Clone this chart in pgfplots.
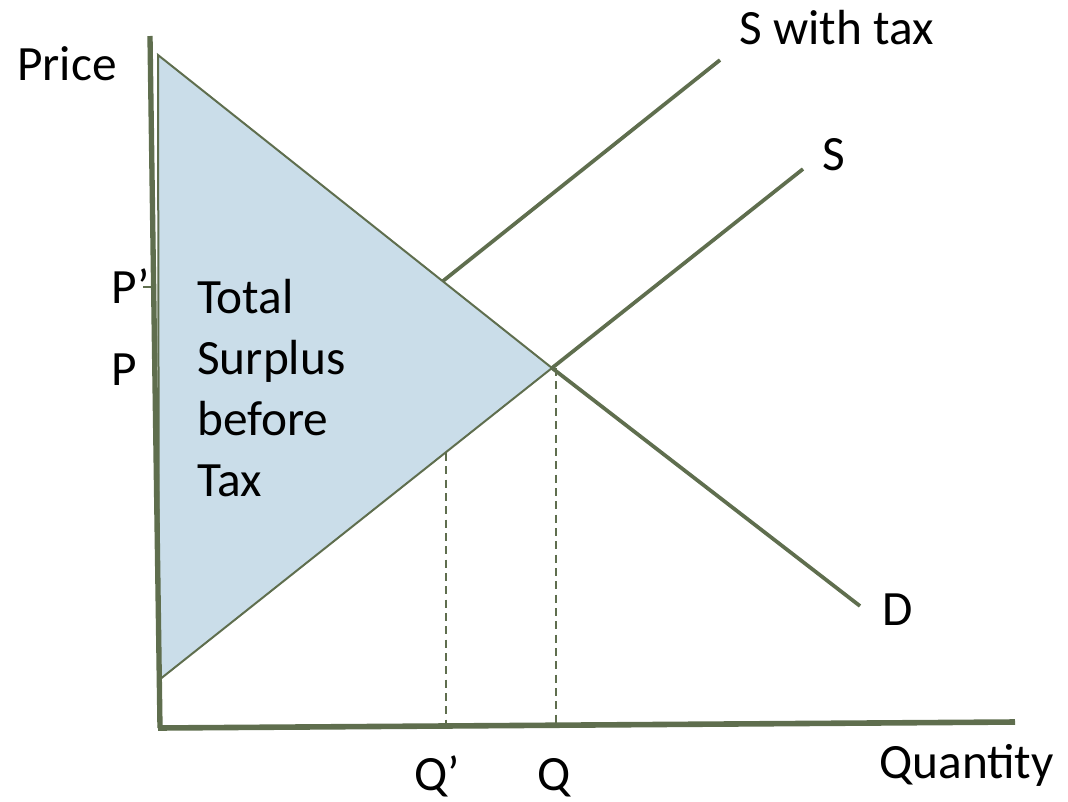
\documentclass[border=0pt]{standalone}
\usepackage{pgfplots}
\pgfplotsset{compat=1.18}
\usepackage{fontspec}
\setmainfont{Carlito}
\definecolor{lineC}{HTML}{5F6E4E}
\definecolor{fillC}{HTML}{CADDE9}
\tikzset{lab/.style={font=\fontsize{37}{44}\selectfont, inner sep=0pt, text=black, anchor=base west}}
\begin{document}
\begin{tikzpicture}
\begin{axis}[
  scale only axis, width=801pt, height=600.75pt,
  xmin=0, xmax=1068, ymin=0, ymax=801, y dir=reverse,
  hide axis, clip=false
]
\path (axis cs:0,0) rectangle (axis cs:1068,801);
% surplus triangle
\addplot[fill=fillC, draw=lineC, line width=1.5pt] coordinates {(158,55) (552,368) (159,680)} -- cycle;
% demand beyond intersection
\addplot[lineC, line width=2.8pt] coordinates {(552,368) (860,606)};
% supply beyond intersection
\addplot[lineC, line width=2.8pt] coordinates {(552,368) (803,169)};
% supply with tax
\addplot[lineC, line width=2.8pt] coordinates {(443,281) (720,60)};
% dashed
\addplot[lineC, line width=1.1pt, dash pattern=on 6pt off 4pt] coordinates {(446,453) (446,726)};
\addplot[lineC, line width=1.1pt, dash pattern=on 6pt off 4pt] coordinates {(556,368) (556,726)};
% axes
\addplot[lineC, line width=4pt] coordinates {(150,36) (160,728)};
\addplot[lineC, line width=4.2pt] coordinates {(158,728) (1015,722)};
% small tick at P'
\addplot[lineC, line width=1pt] coordinates {(143,287) (152,287)};
% labels
\node[lab] at (axis cs:17,80) {Price};
\node[lab] at (axis cs:739,44) {S with tax};
\node[lab] at (axis cs:822,170) {S};
\node[lab] at (axis cs:882,625) {D};
\node[lab] at (axis cs:879,778) {Quantity};
\node[lab] at (axis cs:414,790) {Q’};
\node[lab] at (axis cs:537,790) {Q};
\node[lab] at (axis cs:111,303) {P’};
\node[lab] at (axis cs:111,385) {P};
\node[lab] at (axis cs:197,313) {Total};
\node[lab] at (axis cs:197,374) {Surplus};
\node[lab] at (axis cs:197,435) {before};
\node[lab] at (axis cs:197,496) {Tax};
\end{axis}
\end{tikzpicture}
\end{document}
